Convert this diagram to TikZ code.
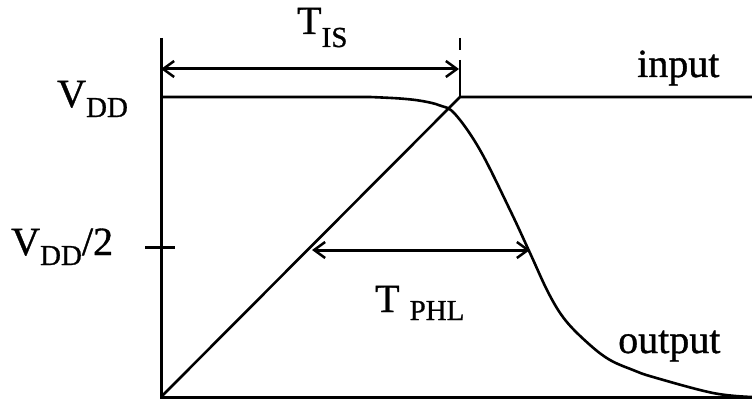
\documentclass[tikz,border=0pt]{standalone}
\usepackage{fontspec}
\setmainfont{Liberation Serif}[FakeBold=0.9]
\usetikzlibrary{arrows.meta}
\newcommand{\lsub}[2][10pt]{\raisebox{-#1}{\fontsize{29}{31}\selectfont #2}}
\begin{document}
\begin{tikzpicture}[x=1pt,y=-1pt,
  lbl/.style={inner sep=0pt, anchor=base west, font=\fontsize{40}{44}\selectfont},
  axis/.style={line width=3pt},
  curve/.style={line width=2.6pt, line join=round},
  barb/.tip={Straight Barb[length=11pt,width=16pt,line width=2.5pt]},
  dim/.style={line width=3pt, barb-barb},
]
\useasboundingbox (0,0) rectangle (752,401);
% axes
\coordinate (o) at (161,397);
\coordinate (ytop) at (161,38);
\coordinate (xend) at (752,397);
\draw[axis] (ytop) -- (o) -- (xend);
% tick at VDD/2
\coordinate (tl) at (145,247);
\coordinate (tr) at (175,247);
\draw[axis] (tl) -- (tr);
% input
\coordinate (itop) at (460,97);
\coordinate (iend) at (752,97);
\draw[curve] (o) -- (itop) -- (iend);
% output
\coordinate (ostart) at (161,97);
\draw[curve] (ostart) -- (370,97)
  plot[smooth, tension=0.6] coordinates {(370,97) (400,98.5) (422,101) (440,105.5) (455,114) (480,150) (510,210) (530,253) (549,294) (566,321) (590,345) (610,360) (633,370) (653,377) (713,393) (752,397)};
% dashed marker
\coordinate (dtop) at (460,38);
\draw[line width=2.5pt, dash pattern=on 12pt off 10pt on 40pt] (dtop) -- (itop);
% dimension arrows
\coordinate (a1) at (161,69);
\coordinate (a2) at (459,69);
\draw[dim] (a1) -- (a2);
\coordinate (b1) at (312,250);
\coordinate (b2) at (530,250);
\draw[dim] (b1) -- (b2);
% labels
\node[lbl] (vdd) at (57,107) {\addfontfeatures{FakeBold=0.9}V\lsub{DD}};
\node[lbl] (vdd2) at (11,255) {\addfontfeatures{FakeBold=0.9}V\lsub{DD}/2};
\node[lbl] (tis) at (297,34) {\addfontfeatures{FakeBold=0.9}T\lsub[13pt]{IS}};
\node[lbl] (tphl) at (375,312) {\addfontfeatures{FakeBold=0.9}T\hspace{10pt}\lsub[8pt]{PHL}};
\node[lbl] (in) at (637,77) {\addfontfeatures{FakeBold=0.9}input};
\node[lbl] (out) at (618,353) {\addfontfeatures{FakeBold=0.9}output};
\end{tikzpicture}
\end{document}
